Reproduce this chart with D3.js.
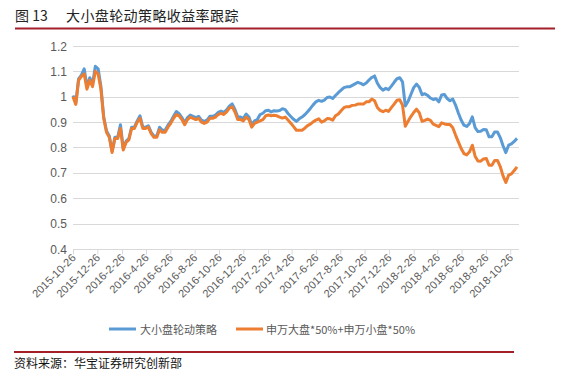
<!DOCTYPE html>
<html><head><meta charset="utf-8">
<script src="https://cdn.jsdelivr.net/npm/d3@7"></script>
<style>
body{margin:0;background:#fff;}
svg{display:block;}
</style></head>
<body>
<svg id="c" width="566" height="379"></svg>
<script>
// ---- data ----
const startDate = "2015-10-26";          // first observation; one point per week after that
const tickLabels = ["2015-10-26","2015-12-26","2016-2-26","2016-4-26","2016-6-26","2016-8-26","2016-10-26","2016-12-26","2017-2-26","2017-4-26","2017-6-26","2017-8-26","2017-10-26","2017-12-26","2018-2-26","2018-4-26","2018-6-26","2018-8-26","2018-10-26"];
const yTickLabels = ["0.4","0.5","0.6","0.7","0.8","0.9","1","1.1","1.2"];
const seriesNames = ["大小盘轮动策略","申万大盘*50%+申万小盘*50%"];
const strategy = [1.005,0.975,1.07,1.085,1.11,1.04,1.075,1.05,1.12,1.11,1.04,0.92,0.865,0.845,0.785,0.84,0.84,0.89,0.795,0.825,
0.835,0.88,0.88,0.905,0.925,0.88,0.88,0.885,0.86,0.845,0.845,0.88,0.868,0.868,0.888,0.903,0.923,0.942,0.933,0.918,
0.898,0.918,0.928,0.923,0.918,0.923,0.908,0.903,0.908,0.923,0.923,0.928,0.938,0.943,0.938,0.948,0.963,0.972,0.95,0.92,
0.92,0.915,0.932,0.92,0.89,0.905,0.91,0.93,0.935,0.945,0.947,0.94,0.945,0.944,0.946,
0.953,0.949,0.934,0.922,0.911,0.903,0.913,0.920,0.929,0.941,0.954,0.968,0.980,0.986,0.982,0.987,0.997,0.999,0.993,1.005,
1.016,1.026,1.036,1.039,1.039,1.045,1.051,1.057,1.053,1.047,1.054,1.066,1.076,1.082,1.053,1.036,1.026,1.033,1.028,1.042,
1.057,1.071,1.075,1.059,0.964,0.982,1.009,1.036,1.05,1.037,1.008,1.012,1.005,0.995,0.989,0.992,0.980,1.007,1.009,0.993,
0.984,0.991,0.967,0.936,0.908,0.888,0.883,0.895,0.921,0.878,0.863,0.864,0.871,0.870,0.842,0.842,0.861,0.861,0.839,0.807,
0.78,0.809,0.814,0.824,0.836];
const benchmark = [1.0,0.97,1.065,1.08,1.09,1.03,1.065,1.04,1.1,1.09,1.03,0.915,0.86,0.84,0.78,0.835,0.835,0.875,0.79,0.82,
0.83,0.875,0.875,0.9,0.915,0.875,0.875,0.88,0.855,0.84,0.84,0.87,0.86,0.86,0.88,0.895,0.915,0.93,0.925,0.91,
0.89,0.91,0.92,0.915,0.91,0.915,0.9,0.895,0.9,0.915,0.915,0.92,0.93,0.935,0.93,0.94,0.955,0.96,0.94,0.91,
0.91,0.905,0.92,0.91,0.88,0.895,0.9,0.905,0.91,0.925,0.928,0.925,0.927,0.925,0.92,
0.916,0.920,0.908,0.896,0.882,0.868,0.868,0.868,0.876,0.886,0.892,0.901,0.908,0.913,0.9,0.905,0.914,0.913,0.908,0.925,
0.932,0.945,0.957,0.961,0.961,0.966,0.967,0.971,0.971,0.971,0.980,0.980,0.991,0.984,0.958,0.946,0.941,0.947,0.942,0.957,
0.971,0.986,0.988,0.967,0.884,0.903,0.922,0.938,0.951,0.937,0.903,0.907,0.912,0.907,0.892,0.887,0.882,0.897,0.893,0.891,
0.891,0.878,0.849,0.822,0.796,0.776,0.771,0.783,0.809,0.766,0.747,0.746,0.755,0.757,0.730,0.730,0.749,0.749,0.725,0.688,
0.662,0.691,0.696,0.709,0.724];
const colors = ["#5B9BD5","#ED7D31"];

// ---- chart ----
const svg = d3.select("#c");
const parse = d3.timeParse("%Y-%m-%d");
const t0 = parse(startDate);
const dates = strategy.map((_, i) => d3.timeDay.offset(t0, 7 * i));

const x = d3.scaleTime().domain([t0, parse("2018-11-17")]).range([73, 519]);
const y = d3.scaleLinear().domain([0.4, 1.2]).range([249, 46]);

// title
svg.append("text").attr("x", 15).attr("y", 21).attr("font-family", "'Noto Sans CJK SC'")
  .attr("font-size", 14).attr("fill", "#222").text("图 13");
svg.append("text").attr("x", 66).attr("y", 21).attr("font-family", "'Noto Sans CJK SC'")
  .attr("font-size", 14).attr("letter-spacing", 0.4).attr("fill", "#222").text("大小盘轮动策略收益率跟踪");
svg.append("line").attr("x1", 15).attr("x2", 555).attr("y1", 28.5).attr("y2", 28.5)
  .attr("stroke", "#A31F2A").attr("stroke-width", 2);

// gridlines + y labels
const yVals = yTickLabels.map(Number);
svg.append("g").selectAll("line").data(yVals).join("line")
  .attr("x1", 73).attr("x2", 519).attr("y1", d => Math.round(y(d)) + 0.5).attr("y2", d => Math.round(y(d)) + 0.5)
  .attr("stroke", "#D9D9D9").attr("stroke-width", 1);
svg.append("g").selectAll("text").data(yTickLabels).join("text")
  .attr("x", 67).attr("y", d => y(+d) + 4.5).attr("text-anchor", "end")
  .attr("font-family", "'Liberation Sans', Arial, sans-serif").attr("font-size", 12).attr("fill", "#595959")
  .text(d => d);

// x axis
const tickDates = tickLabels.map(s => parse(s));
const xAxis = d3.axisBottom(x).tickValues(tickDates).tickSize(5).tickFormat((d, i) => tickLabels[i]);
const gx = svg.append("g").attr("transform", `translate(0,${Math.round(y(0.4)) + 0.5})`).call(xAxis);
gx.select(".domain").attr("stroke", "#D9D9D9").attr("d", "M73,0H519");
gx.selectAll(".tick line").attr("stroke", "#D9D9D9");
gx.selectAll(".tick text")
  .attr("font-family", "'Liberation Sans', Arial, sans-serif").attr("font-size", 11).attr("fill", "#595959")
  .attr("text-anchor", "end").attr("dy", null).attr("y", 0)
  .attr("transform", "translate(3,9) rotate(-45)");

// lines
const line = d3.line().x((d, i) => x(dates[i])).y(d => y(d)).curve(d3.curveLinear);
[strategy, benchmark].forEach((s, k) => {
  svg.append("path").datum(s).attr("d", line).attr("fill", "none")
    .attr("stroke", colors[k]).attr("stroke-width", 3).attr("stroke-linejoin", "round");
});

// legend
const lg = svg.append("g");
const legendPos = [{x1: 109, tx: 140}, {x1: 236, tx: 266}];
seriesNames.forEach((n, k) => {
  lg.append("line").attr("x1", legendPos[k].x1).attr("x2", legendPos[k].x1 + 27).attr("y1", 329).attr("y2", 329)
    .attr("stroke", colors[k]).attr("stroke-width", 3);
  lg.append("text").attr("x", legendPos[k].tx).attr("y", 333.5)
    .attr("font-family", "'Noto Sans CJK SC'").attr("font-size", 11).attr("fill", "#595959").text(n);
});

// footer
svg.append("line").attr("x1", 14).attr("x2", 514).attr("y1", 352).attr("y2", 352)
  .attr("stroke", "#A31F2A").attr("stroke-width", 2);
svg.append("text").attr("x", 14).attr("y", 368).attr("font-family", "'Noto Sans CJK SC'")
  .attr("font-size", 12).attr("fill", "#111").text("资料来源：华宝证券研究创新部");
</script>
</body></html>
